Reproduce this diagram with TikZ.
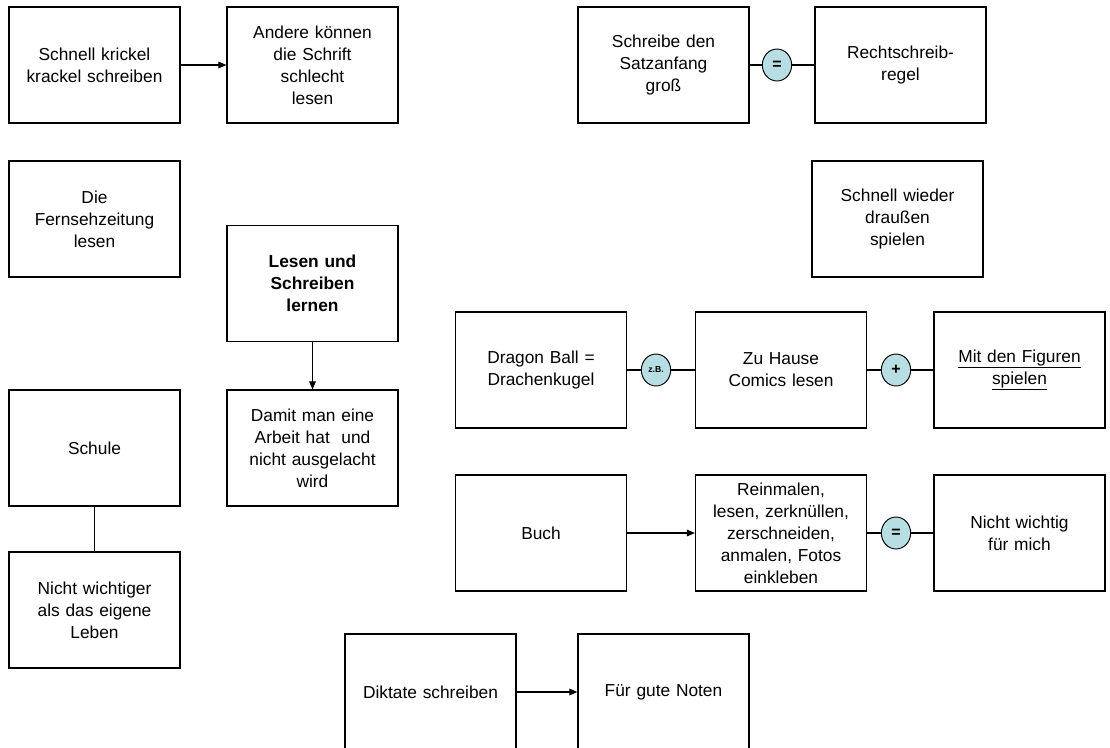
\documentclass[tikz,border=0pt]{standalone}
\usepackage{fontspec}
\setmainfont{Liberation Sans}
\usetikzlibrary{arrows.meta,shapes.geometric}
\definecolor{bubblefill}{RGB}{183,222,226}
\begin{document}
\begin{tikzpicture}[x=0.75pt,y=-0.75pt,
  card/.style={draw=black,line width=0.9pt,minimum width=128.25pt,minimum height=87pt,
    inner sep=2pt,text width=124pt,align=center,font=\fontsize{13}{16.5}\selectfont},
  link/.style={draw=black,line width=0.8pt},
  arr/.style={link,-{Triangle[length=6pt,width=5pt]}},
  bubble/.style={ellipse,draw=black,line width=0.7pt,fill=bubblefill,minimum width=22pt,
    minimum height=24pt,inner sep=0pt,font=\bfseries\fontsize{12}{12}\selectfont}]
\useasboundingbox (0,0) rectangle (1110,747);

% left column
\node[card] (krickel) at (94.5,65) {Schnell krickel\\krackel schreiben};
\node[card] (andere) at (312.5,65) {Andere können\\die Schrift\\schlecht\\lesen};
\node[card] (fernseh) at (94.5,219) {Die\\Fernsehzeitung\\lesen};
\node[card,font=\bfseries\fontsize{13}{16.5}\selectfont] (lernen) at (312.5,283.5) {Lesen und\\Schreiben\\lernen};
\node[card] (arbeit) at (312.5,448) {Damit man eine\\Arbeit hat~ und\\nicht ausgelacht\\wird};
\node[card] (schule) at (94.5,448) {Schule};
\node[card] (leben) at (94.5,610) {Nicht wichtiger\\als das eigene\\Leben};

% right part
\node[card] (satz) at (663.5,65) {Schreibe den\\Satzanfang\\groß};
\node[card] (regel) at (900.5,65) {Rechtschreib-\\regel};
\node[card] (draussen) at (897.5,219) {Schnell wieder\\draußen\\spielen};
\node[card] (dragon) at (541,370) {Dragon Ball =\\Drachenkugel};
\node[card] (comics) at (781,370) {Zu Hause\\Comics lesen};
\node[card] (figuren) at (1019.5,370) {\underline{Mit den Figuren}\\\underline{spielen}};
\node[card] (buch) at (541,533) {Buch};
\node[card] (malen) at (781,533) {Reinmalen,\\lesen, zerknüllen,\\zerschneiden,\\anmalen, Fotos\\einkleben};
\node[card] (wichtig) at (1019.5,533) {Nicht wichtig\\für mich};
\node[card] (diktat) at (430.5,692) {Diktate schreiben};
\node[card] (noten) at (663.5,692) {Für gute Noten};

% connector bubbles
\node[bubble] (eqA) at (777,65) {=};
\node[bubble,font=\bfseries\fontsize{6.5}{7}\selectfont] (zb) at (656,370) {z.B.};
\node[bubble] (plus) at (896,370) {+};
\node[bubble] (eqB) at (896,533) {=};

% connectors
\draw[arr] (krickel) -- (andere);
\draw[arr] (lernen) -- (arbeit);
\draw[link] (schule) -- (leben);
\draw[link] (satz) -- (eqA) -- (regel);
\draw[link] (dragon) -- (zb) -- (comics);
\draw[link] (comics) -- (plus) -- (figuren);
\draw[arr] (buch) -- (malen);
\draw[link] (malen) -- (eqB) -- (wichtig);
\draw[arr] (diktat) -- (noten);
\end{tikzpicture}
\end{document}
